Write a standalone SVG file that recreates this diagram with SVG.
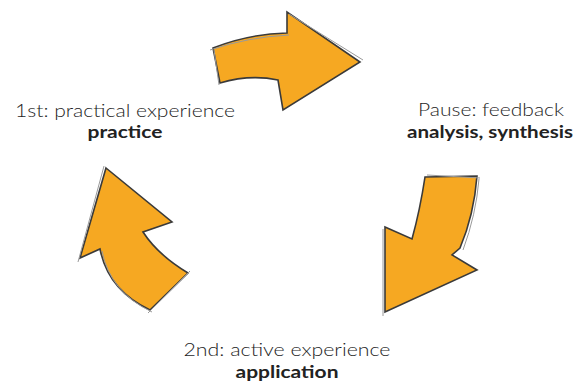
<svg xmlns="http://www.w3.org/2000/svg" width="575" height="385" viewBox="0 0 575 385">
<style>
.arrow{fill:#F6A822;stroke:#3a3a3a;stroke-width:1.6;stroke-linejoin:miter}
.sk{fill:none;stroke:#9a9a9a;stroke-width:1}
.lt{font-family:Lato,"Open Sans","Liberation Sans",sans-serif;font-weight:300;font-size:17px;fill:#1e1e1e;text-anchor:middle}
.bd{font-family:Lato,"Open Sans","Liberation Sans",sans-serif;font-weight:700;font-size:17px;fill:#222;text-anchor:middle}
</style>
<rect width="575" height="385" fill="#fff"/>
<g id="arrow-top">
<path class="arrow" d="M213,48 Q248,34 287,33 L287,12 L360,62 L283,110 L278,80 Q250,74 220,83 Z"/>
<path class="sk" d="M210,50 Q248,37 289,35 M289,14 L363,60 M214,50 L219,85"/>
</g>
<g id="arrow-right">
<path class="arrow" d="M425,177 L477,176 Q474,215 460,248 L452,255 L477,270 L385,312 L385,227 L412,239 Q420,210 425,177 Z"/>
<path class="sk" d="M427,175 L480,178 M479,179 Q476,215 463,250 M383,229 L383,316"/>
</g>
<g id="arrow-left">
<path class="arrow" d="M106,168 L172,222 L143,232 Q158,255 188,273 L150,310 Q108,290 100,249 L80,258 Z"/>
<path class="sk" d="M104,166 L78,262 M190,271 L148,313 M102,251 Q110,292 152,312"/>
</g>
<g id="label-practice">
<text class="lt" x="125" y="117" textLength="220" lengthAdjust="spacingAndGlyphs">1st: practical experience</text>
<text class="bd" x="125" y="138" textLength="75" lengthAdjust="spacingAndGlyphs">practice</text>
</g>
<g id="label-feedback">
<text class="lt" x="491" y="116" textLength="146" lengthAdjust="spacingAndGlyphs">Pause: feedback</text>
<text class="bd" x="490" y="138" textLength="166" lengthAdjust="spacingAndGlyphs">analysis, synthesis</text>
</g>
<g id="label-application">
<text class="lt" x="287" y="356" textLength="207" lengthAdjust="spacingAndGlyphs">2nd: active experience</text>
<text class="bd" x="287" y="378" textLength="103" lengthAdjust="spacingAndGlyphs">application</text>
</g>
</svg>
